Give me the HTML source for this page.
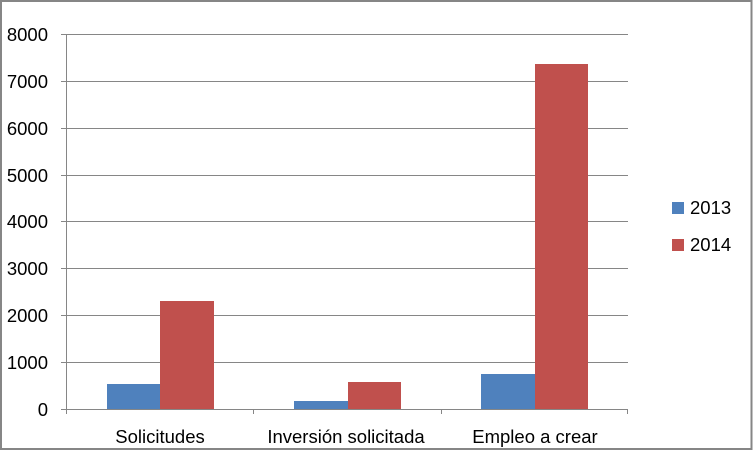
<!DOCTYPE html>
<html><head><style>
body{margin:0;background:#fff}
svg{display:block}
text{font-family:"Liberation Sans",sans-serif;font-size:18.5px;fill:#000}
</style></head><body>
<svg width="753" height="451" xmlns="http://www.w3.org/2000/svg">
<rect x="1" y="1" width="750.5" height="448" fill="#fff" stroke="#868686" stroke-width="2"/>
<g stroke="#868686" stroke-width="1">
<line x1="61" y1="34.5" x2="628" y2="34.5"/>
<line x1="61" y1="81.5" x2="628" y2="81.5"/>
<line x1="61" y1="128.5" x2="628" y2="128.5"/>
<line x1="61" y1="175.5" x2="628" y2="175.5"/>
<line x1="61" y1="221.5" x2="628" y2="221.5"/>
<line x1="61" y1="268.5" x2="628" y2="268.5"/>
<line x1="61" y1="315.5" x2="628" y2="315.5"/>
<line x1="61" y1="362.5" x2="628" y2="362.5"/>
<line x1="61" y1="409.5" x2="628" y2="409.5"/>
<line x1="66.5" y1="34" x2="66.5" y2="409"/>
<line x1="66.5" y1="409" x2="66.5" y2="414"/>
<line x1="253.5" y1="409" x2="253.5" y2="414"/>
<line x1="441.5" y1="409" x2="441.5" y2="414"/>
<line x1="627.5" y1="409" x2="627.5" y2="414"/>
</g>
<g fill="#4f81bd">
<rect x="107" y="384" width="53" height="25"/>
<rect x="294" y="401" width="54" height="8"/>
<rect x="481" y="374" width="54" height="35"/>
<rect x="672" y="202" width="12" height="12"/>
</g>
<g fill="#c0504d">
<rect x="160" y="301" width="54" height="108"/>
<rect x="348" y="382" width="53" height="27"/>
<rect x="535" y="64" width="53" height="345"/>
<rect x="672" y="239" width="12" height="12"/>
</g>
<g text-anchor="end">
<text x="48" y="41">8000</text>
<text x="48" y="88">7000</text>
<text x="48" y="135">6000</text>
<text x="48" y="182">5000</text>
<text x="48" y="228">4000</text>
<text x="48" y="275">3000</text>
<text x="48" y="322">2000</text>
<text x="48" y="369">1000</text>
<text x="48" y="416">0</text>
</g>
<g text-anchor="middle">
<text x="160" y="443">Solicitudes</text>
<text x="346" y="443">Inversión solicitada</text>
<text x="535" y="443">Empleo a crear</text>
</g>
<text x="690" y="214">2013</text>
<text x="690" y="251">2014</text>
</svg>
</body></html>
